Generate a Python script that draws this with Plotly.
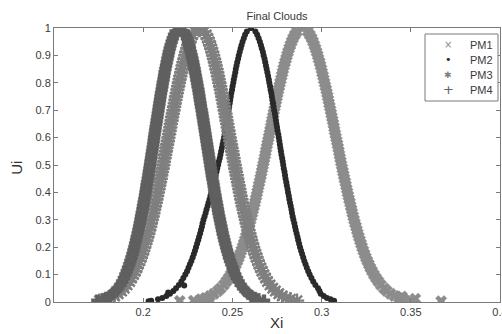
import plotly.graph_objects as go

u_levels = [0.005, 0.015, 0.03, 0.05, 0.075, 0.1, 0.125, 0.15, 0.175, 0.2,
            0.225, 0.25, 0.275, 0.3, 0.325, 0.35, 0.375, 0.4, 0.425, 0.45,
            0.475, 0.5, 0.525, 0.55, 0.575, 0.6, 0.625, 0.65, 0.675, 0.7,
            0.725, 0.75, 0.775, 0.8, 0.825, 0.85, 0.875, 0.9, 0.925, 0.95,
            0.975, 1.0]
# in-between levels (second reading pass)
u_levels_b = [0.01, 0.022, 0.04, 0.0625, 0.0875, 0.1125, 0.1375, 0.1625, 0.1875, 0.2125,
              0.2375, 0.2625, 0.2875, 0.3125, 0.3375, 0.3625, 0.3875, 0.4125, 0.4375, 0.4625,
              0.4875, 0.5125, 0.5375, 0.5625, 0.5875, 0.6125, 0.6375, 0.6625, 0.6875, 0.7125,
              0.7375, 0.7625, 0.7875, 0.8125, 0.8375, 0.8625, 0.8875, 0.9125, 0.9375, 0.9625,
              0.9875]

# PM1 ('x' markers, peak ~0.289)
pm1_left = [0.2283, 0.2350, 0.2397, 0.2434, 0.2466, 0.2491, 0.2511, 0.2528, 0.2543, 0.2557,
            0.2569, 0.2581, 0.2591, 0.2602, 0.2612, 0.2621, 0.2630, 0.2639, 0.2647, 0.2656,
            0.2664, 0.2672, 0.2680, 0.2687, 0.2695, 0.2703, 0.2711, 0.2718, 0.2726, 0.2734,
            0.2742, 0.2750, 0.2758, 0.2767, 0.2776, 0.2785, 0.2795, 0.2806, 0.2818, 0.2832,
            0.2850, 0.2892]
pm1_right = [0.3501, 0.3434, 0.3387, 0.3350, 0.3318, 0.3293, 0.3273, 0.3256, 0.3241, 0.3227,
             0.3215, 0.3203, 0.3193, 0.3182, 0.3172, 0.3163, 0.3154, 0.3145, 0.3137, 0.3128,
             0.3120, 0.3112, 0.3104, 0.3097, 0.3089, 0.3081, 0.3073, 0.3066, 0.3058, 0.3050,
             0.3042, 0.3034, 0.3026, 0.3017, 0.3008, 0.2999, 0.2989, 0.2978, 0.2966, 0.2952,
             0.2934, 0.2892]
pm1_left_b = [0.2325, 0.2375, 0.2418, 0.2452, 0.2479, 0.2501, 0.2520, 0.2536, 0.2550, 0.2563,
              0.2575, 0.2586, 0.2597, 0.2607, 0.2616, 0.2626, 0.2635, 0.2643, 0.2652, 0.2660,
              0.2668, 0.2676, 0.2684, 0.2691, 0.2699, 0.2707, 0.2715, 0.2722, 0.2730, 0.2738,
              0.2746, 0.2754, 0.2763, 0.2772, 0.2781, 0.2790, 0.2801, 0.2812, 0.2825, 0.2840,
              0.2862]
pm1_right_b = [0.3460, 0.3409, 0.3366, 0.3332, 0.3305, 0.3283, 0.3265, 0.3248, 0.3234, 0.3221,
               0.3209, 0.3198, 0.3187, 0.3177, 0.3168, 0.3159, 0.3150, 0.3141, 0.3133, 0.3124,
               0.3116, 0.3108, 0.3100, 0.3093, 0.3085, 0.3077, 0.3070, 0.3062, 0.3054, 0.3046,
               0.3038, 0.3030, 0.3021, 0.3012, 0.3003, 0.2994, 0.2983, 0.2972, 0.2959, 0.2944,
               0.2922]
pm1_extra_x = [0.2205, 0.2320, 0.2365, 0.3450, 0.3525, 0.3670]
pm1_extra_u = [0.004, 0.008, 0.012, 0.020, 0.012, 0.003]

# PM2 (dots, peak ~0.26)
pm2_left = [0.2045, 0.2107, 0.2150, 0.2184, 0.2214, 0.2236, 0.2254, 0.2270, 0.2284, 0.2296,
            0.2308, 0.2319, 0.2329, 0.2338, 0.2350, 0.2361, 0.2372, 0.2382, 0.2392, 0.2401,
            0.2411, 0.2420, 0.2429, 0.2437, 0.2445, 0.2453, 0.2459, 0.2466, 0.2472, 0.2478,
            0.2485, 0.2491, 0.2498, 0.2505, 0.2512, 0.2519, 0.2527, 0.2536, 0.2546, 0.2557,
            0.2571, 0.2605]
pm2_right = [0.3070, 0.3030, 0.2995, 0.2980, 0.2953, 0.2933, 0.2917, 0.2903, 0.2891, 0.2879,
             0.2869, 0.2860, 0.2851, 0.2842, 0.2834, 0.2827, 0.2819, 0.2812, 0.2805, 0.2798,
             0.2792, 0.2785, 0.2779, 0.2772, 0.2766, 0.2760, 0.2753, 0.2747, 0.2741, 0.2734,
             0.2728, 0.2721, 0.2714, 0.2707, 0.2700, 0.2692, 0.2684, 0.2675, 0.2665, 0.2654,
             0.2639, 0.2605]
pm2_left_b = [0.2083, 0.2130, 0.2169, 0.2200, 0.2225, 0.2246, 0.2262, 0.2277, 0.2290, 0.2302,
              0.2313, 0.2324, 0.2333, 0.2344, 0.2355, 0.2366, 0.2377, 0.2387, 0.2397, 0.2406,
              0.2415, 0.2424, 0.2433, 0.2441, 0.2449, 0.2457, 0.2463, 0.2469, 0.2475, 0.2482,
              0.2488, 0.2494, 0.2501, 0.2508, 0.2516, 0.2523, 0.2532, 0.2541, 0.2551, 0.2564,
              0.2581]
pm2_right_b = [0.3050, 0.3012, 0.2988, 0.2965, 0.2943, 0.2925, 0.2910, 0.2897, 0.2885, 0.2874,
               0.2865, 0.2855, 0.2847, 0.2838, 0.2831, 0.2823, 0.2816, 0.2809, 0.2802, 0.2795,
               0.2788, 0.2782, 0.2775, 0.2769, 0.2763, 0.2757, 0.2750, 0.2744, 0.2738, 0.2731,
               0.2724, 0.2718, 0.2711, 0.2704, 0.2696, 0.2688, 0.2680, 0.2671, 0.2660, 0.2647,
               0.2629]
pm2_extra_x = [0.2030, 0.2140, 0.2230]
pm2_extra_u = [0.003, 0.035, 0.060]

# PM3 ('*' markers, peak ~0.2315)
pm3_left = [0.1755, 0.1817, 0.1860, 0.1894, 0.1924, 0.1946, 0.1964, 0.1980, 0.1994, 0.2006,
            0.2018, 0.2029, 0.2039, 0.2048, 0.2057, 0.2066, 0.2074, 0.2082, 0.2090, 0.2098,
            0.2105, 0.2113, 0.2120, 0.2127, 0.2134, 0.2141, 0.2148, 0.2155, 0.2162, 0.2170,
            0.2177, 0.2184, 0.2192, 0.2200, 0.2208, 0.2217, 0.2226, 0.2236, 0.2247, 0.2260,
            0.2276, 0.2315]
pm3_right = [0.2862, 0.2802, 0.2760, 0.2726, 0.2697, 0.2676, 0.2658, 0.2642, 0.2629, 0.2616,
             0.2605, 0.2595, 0.2585, 0.2576, 0.2567, 0.2558, 0.2550, 0.2542, 0.2535, 0.2527,
             0.2520, 0.2513, 0.2506, 0.2499, 0.2492, 0.2485, 0.2478, 0.2471, 0.2464, 0.2457,
             0.2450, 0.2443, 0.2435, 0.2427, 0.2419, 0.2411, 0.2402, 0.2392, 0.2381, 0.2369,
             0.2353, 0.2315]
pm3_left_b = [0.1793, 0.1840, 0.1879, 0.1910, 0.1935, 0.1956, 0.1972, 0.1987, 0.2000, 0.2012,
              0.2023, 0.2034, 0.2043, 0.2053, 0.2061, 0.2070, 0.2078, 0.2086, 0.2094, 0.2101,
              0.2109, 0.2116, 0.2123, 0.2130, 0.2138, 0.2145, 0.2152, 0.2159, 0.2166, 0.2173,
              0.2181, 0.2188, 0.2196, 0.2204, 0.2213, 0.2221, 0.2231, 0.2241, 0.2253, 0.2268,
              0.2288]
pm3_right_b = [0.2825, 0.2779, 0.2741, 0.2711, 0.2686, 0.2666, 0.2650, 0.2635, 0.2622, 0.2611,
               0.2600, 0.2590, 0.2580, 0.2571, 0.2563, 0.2554, 0.2546, 0.2539, 0.2531, 0.2524,
               0.2516, 0.2509, 0.2502, 0.2495, 0.2488, 0.2481, 0.2474, 0.2467, 0.2461, 0.2453,
               0.2446, 0.2439, 0.2431, 0.2423, 0.2415, 0.2406, 0.2397, 0.2387, 0.2375, 0.2361,
               0.2342]

# PM4 ('+' markers, peak ~0.2205)
pm4_left = [0.1743, 0.1793, 0.1829, 0.1857, 0.1882, 0.1900, 0.1915, 0.1928, 0.1940, 0.1950,
            0.1960, 0.1969, 0.1977, 0.1985, 0.1992, 0.1999, 0.2006, 0.2013, 0.2019, 0.2026,
            0.2032, 0.2038, 0.2044, 0.2050, 0.2056, 0.2061, 0.2067, 0.2073, 0.2079, 0.2085,
            0.2091, 0.2097, 0.2104, 0.2110, 0.2117, 0.2124, 0.2132, 0.2140, 0.2149, 0.2160,
            0.2173, 0.2205]
pm4_right = [0.2677, 0.2625, 0.2589, 0.2560, 0.2535, 0.2516, 0.2501, 0.2487, 0.2476, 0.2465,
             0.2455, 0.2446, 0.2438, 0.2430, 0.2422, 0.2415, 0.2408, 0.2401, 0.2395, 0.2388,
             0.2382, 0.2376, 0.2370, 0.2364, 0.2358, 0.2352, 0.2346, 0.2340, 0.2334, 0.2328,
             0.2321, 0.2315, 0.2309, 0.2302, 0.2295, 0.2288, 0.2280, 0.2272, 0.2262, 0.2251,
             0.2238, 0.2205]
pm4_left_b = [0.1774, 0.1813, 0.1845, 0.1871, 0.1892, 0.1908, 0.1922, 0.1934, 0.1945, 0.1955,
              0.1964, 0.1973, 0.1981, 0.1988, 0.1996, 0.2003, 0.2010, 0.2016, 0.2022, 0.2029,
              0.2035, 0.2041, 0.2047, 0.2053, 0.2059, 0.2064, 0.2070, 0.2076, 0.2082, 0.2088,
              0.2094, 0.2100, 0.2107, 0.2114, 0.2120, 0.2128, 0.2136, 0.2144, 0.2154, 0.2166,
              0.2182]
pm4_right_b = [0.2645, 0.2606, 0.2573, 0.2547, 0.2525, 0.2508, 0.2494, 0.2481, 0.2470, 0.2460,
               0.2451, 0.2442, 0.2434, 0.2426, 0.2419, 0.2412, 0.2405, 0.2398, 0.2392, 0.2385,
               0.2379, 0.2373, 0.2367, 0.2361, 0.2355, 0.2349, 0.2343, 0.2337, 0.2331, 0.2324,
               0.2318, 0.2312, 0.2305, 0.2298, 0.2291, 0.2284, 0.2276, 0.2267, 0.2257, 0.2245,
               0.2228]

series_names = ["PM1", "PM2", "PM3", "PM4"]

x_ticks = [0.2, 0.25, 0.3, 0.35, 0.4]
x_tick_labels = ["0.2", "0.25", "0.3", "0.35", "0.4"]
y_ticks = [0, 0.1, 0.2, 0.3, 0.4, 0.5, 0.6, 0.7, 0.8, 0.9, 1]
y_tick_labels = ["0", "0.1", "0.2", "0.3", "0.4", "0.5", "0.6", "0.7", "0.8", "0.9", "1"]

FONT = "Liberation Sans, Arial, Helvetica, sans-serif"
TXT = "#3a3a3a"
AX = "#7a7a7a"

# name, x arrays, extra x, extra u, symbol, colour, size, outline width, legend glyph, glyph size
series = [
    (series_names[0], (pm1_left, pm1_right, pm1_left_b, pm1_right_b), pm1_extra_x, pm1_extra_u,
     "x", "#8c8c8c", 10, 0.5, "\u00d7", 10),
    (series_names[1], (pm2_left, pm2_right, pm2_left_b, pm2_right_b), pm2_extra_x, pm2_extra_u,
     "circle", "#2a2a2a", 6, 0, "\u2022", 11),
    (series_names[2], (pm3_left, pm3_right, pm3_left_b, pm3_right_b), [], [],
     "asterisk", "#7f7f7f", 12, 2.4, "\u2731", 9),
    (series_names[3], (pm4_left, pm4_right, pm4_left_b, pm4_right_b), [], [],
     "cross", "#606060", 10, 0.4, "+", 13),
]

fig = go.Figure()
for name, arrs, ex, eu, sym, col, size, lw, glyph, gsize in series:
    xl, xr, xlb, xrb = arrs
    xs = list(xl) + list(xr) + list(xlb) + list(xrb) + list(ex)
    ys = list(u_levels) + list(u_levels) + list(u_levels_b) + list(u_levels_b) + list(eu)
    fig.add_trace(go.Scatter(x=xs, y=ys, mode="markers", name=name,
                             marker=dict(symbol=sym, size=size, color=col,
                                         line=dict(color=col, width=lw)),
                             showlegend=False, hoverinfo="skip"))

axis_common = dict(showgrid=False, zeroline=False, showline=True, linecolor=AX,
                   linewidth=1, mirror="ticks", ticks="inside", ticklen=4, automargin=False,
                   tickcolor=AX, tickfont=dict(family=FONT, size=11, color=TXT))


def px_x(px):
    return (px - 54) / 446.0


def px_y(py):
    return (302 - py) / 274.0


annotations = [
    dict(text="Xi", xref="paper", yref="paper", x=0.498, y=-0.073, showarrow=False,
         xanchor="center", yanchor="middle", font=dict(family=FONT, size=15, color="#333")),
    dict(text="Ui", xref="paper", yref="paper", x=-0.083, y=0.49, showarrow=False,
         textangle=-90, xanchor="center", yanchor="middle",
         font=dict(family=FONT, size=15, color="#333")),
]
# hand-made legend box (MATLAB-style, compact rows)
row_px = [45, 60, 75, 90]
for (name, arrs, ex, eu, sym, col, size, lw, glyph, gsize), rp in zip(series, row_px):
    annotations.append(dict(text=glyph, xref="paper", yref="paper", x=px_x(448), y=px_y(rp),
                            showarrow=False, xanchor="center", yanchor="middle",
                            font=dict(family="DejaVu Sans", size=gsize, color=col)))
    annotations.append(dict(text=name, xref="paper", yref="paper", x=px_x(468), y=px_y(rp),
                            showarrow=False, xanchor="left", yanchor="middle",
                            font=dict(family=FONT, size=11, color=TXT)))

fig.update_layout(
    width=502, height=334,
    margin=dict(l=54, r=2, t=28, b=32, autoexpand=False),
    paper_bgcolor="white", plot_bgcolor="white",
    font=dict(family=FONT, color=TXT),
    showlegend=False,
    title=dict(text="Final Clouds", x=277 / 502, xanchor="center",
               xref="container", yref="container", y=1 - 16 / 334, yanchor="middle",
               font=dict(family=FONT, size=11, color=TXT)),
    xaxis=dict(range=[0.15, 0.4], tickvals=x_ticks, ticktext=x_tick_labels,
               ticklabeloverflow="allow", **axis_common),
    yaxis=dict(range=[0, 1], tickvals=y_ticks, ticktext=y_tick_labels, **axis_common),
    shapes=[dict(type="rect", xref="paper", yref="paper", x0=px_x(425), x1=px_x(498),
                 y0=px_y(101), y1=px_y(34), line=dict(color=AX, width=1), fillcolor="white",
                 layer="above")],
    annotations=annotations,
)

fig.write_html("out.html", config={"displayModeBar": False},
               post_script="document.body.style.margin='0px';")
